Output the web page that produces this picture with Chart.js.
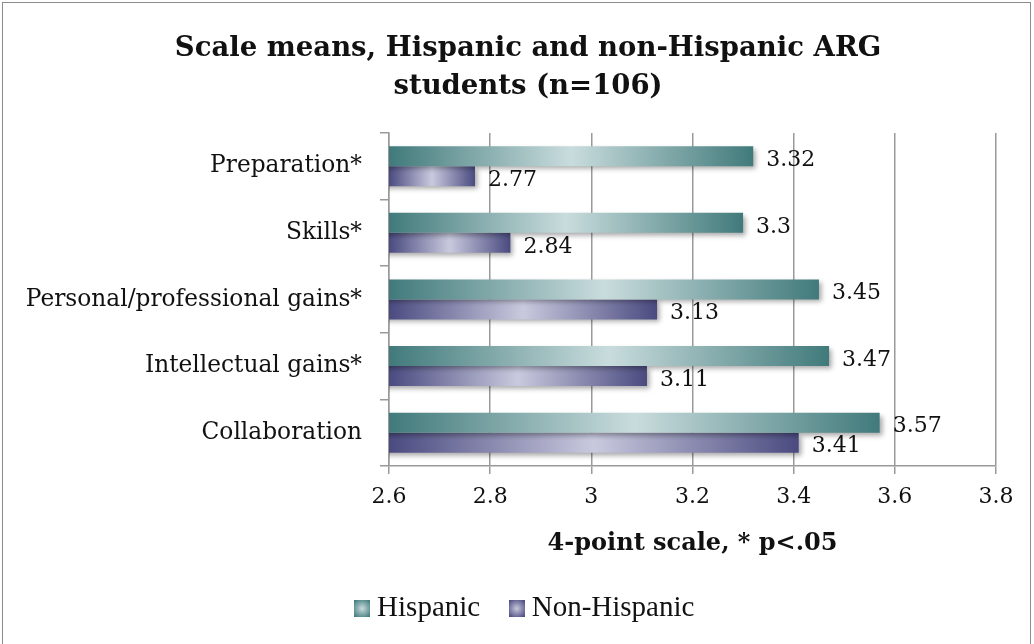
<!DOCTYPE html>
<html>
<head>
<meta charset="utf-8">
<script src="https://cdn.jsdelivr.net/npm/chart.js@4.4.0/dist/chart.umd.min.js"></script>
<style>
  html, body { margin: 0; padding: 0; background: #fff; }
  #wrap { position: absolute; left: 0; top: 0; width: 1034px; height: 644px; }
</style>
</head>
<body>
<div id="wrap"><canvas id="c" width="1034" height="644"></canvas></div>
<script>
const categories = ["Preparation*", "Skills*", "Personal/professional gains*", "Intellectual gains*", "Collaboration"];
const hispanic = [3.32, 3.3, 3.45, 3.47, 3.57];
const nonHispanic = [2.77, 2.84, 3.13, 3.11, 3.41];
const hispanicLabels = ["3.32", "3.3", "3.45", "3.47", "3.57"];
const nonHispanicLabels = ["2.77", "2.84", "3.13", "3.11", "3.41"];
const seriesNames = ["Hispanic", "Non-Hispanic"];
const titleLines = ["Scale means, Hispanic and non-Hispanic ARG", "students (n=106)"];
const xTitle = "4-point scale, * p<.05";
const xMin = 2.6, xMax = 3.8, xStep = 0.2;

const SERIF = "'DejaVu Serif', Georgia, serif";
const TEAL = ["#417a7b", "#c9dcdd"];
const PURPLE = ["#4a4a80", "#c9c9de"];

function barGradient(ctx, colors) {
  const chart = ctx.chart;
  if (!chart.chartArea || ctx.raw === undefined) return colors[0];
  const xs = chart.scales.x;
  const x0 = xs.getPixelForValue(xs.min);
  const x1 = xs.getPixelForValue(ctx.raw);
  if (!isFinite(x0) || !isFinite(x1) || x1 <= x0) return colors[0];
  const g = chart.ctx.createLinearGradient(x0, 0, x1, 0);
  g.addColorStop(0, colors[0]);
  g.addColorStop(0.5, colors[1]);
  g.addColorStop(1, colors[0]);
  return g;
}

function legendSwatch(colors) {
  const cv = document.createElement('canvas');
  cv.width = 16; cv.height = 17;
  const c = cv.getContext('2d');
  const g = c.createRadialGradient(8, 8.5, 0, 8, 8.5, 11);
  g.addColorStop(0, colors[1]);
  g.addColorStop(1, colors[0]);
  c.fillStyle = g;
  c.fillRect(0, 0, 16, 17);
  return cv;
}

const framePlugin = {
  id: 'frame',
  beforeDraw(chart) {
    // let the long category labels extend left of the axis box without clipping
    if (chart.scales.y) chart.scales.y._computeLabelArea = () => undefined;
    const c = chart.ctx;
    c.save();
    c.fillStyle = '#fff';
    c.fillRect(0, 0, chart.width, chart.height);
    c.strokeStyle = '#8c8c8c';
    c.lineWidth = 1;
    c.strokeRect(2.5, 2.5, 1028, 660);
    c.restore();
  }
};

const shadowPlugin = {
  id: 'barShadow',
  beforeDatasetsDraw(chart) {
    const c = chart.ctx;
    c.save();
    c.shadowColor = 'rgba(0,0,0,0.35)';
    c.shadowBlur = 5;
    c.shadowOffsetX = 3;
    c.shadowOffsetY = 3;
  },
  afterDatasetsDraw(chart) {
    chart.ctx.restore();
  }
};

const labelPlugin = {
  id: 'valueLabels',
  afterDatasetsDraw(chart) {
    const c = chart.ctx;
    const labelSets = [hispanicLabels, nonHispanicLabels];
    c.save();
    c.font = "22px " + SERIF;
    c.fillStyle = '#111';
    c.textAlign = 'left';
    c.textBaseline = 'middle';
    chart.data.datasets.forEach((ds, di) => {
      const meta = chart.getDatasetMeta(di);
      meta.data.forEach((bar, i) => {
        c.fillText(labelSets[di][i], bar.x + 13, bar.y + 4);
      });
    });
    c.restore();
  }
};

new Chart(document.getElementById('c'), {
  type: 'bar',
  data: {
    labels: categories,
    datasets: [
      { label: seriesNames[0], data: hispanic, backgroundColor: (ctx) => barGradient(ctx, TEAL), borderWidth: 0, swatch: legendSwatch(TEAL) },
      { label: seriesNames[1], data: nonHispanic, backgroundColor: (ctx) => barGradient(ctx, PURPLE), borderWidth: 0, swatch: legendSwatch(PURPLE) }
    ]
  },
  options: {
    indexAxis: 'y',
    responsive: false,
    animation: false,
    devicePixelRatio: 1,
    categoryPercentage: 0.6,
    barPercentage: 1.0,
    layout: { padding: { left: 60, right: 38, top: 0, bottom: 11 } },
    plugins: {
      title: {
        display: true,
        text: titleLines,
        color: '#111',
        font: { family: SERIF, size: 27.5, weight: 'bold', lineHeight: 1.38 },
        padding: { top: 30, bottom: 27 }
      },
      legend: {
        display: true,
        position: 'bottom',
        labels: {
          color: '#111',
          font: { family: "'Liberation Serif', 'Times New Roman', serif", size: 29 },
          usePointStyle: true,
          pointStyleWidth: 1,
          boxHeight: 17,
          padding: 36,
          generateLabels(chart) {
            return chart.data.datasets.map((ds, i) => ({
              text: ds.label,
              pointStyle: ds.swatch,
              fillStyle: TEAL[0],
              strokeStyle: 'transparent',
              lineWidth: 0,
              hidden: false,
              datasetIndex: i,
              fontColor: '#111'
            }));
          }
        }
      },
      tooltip: { enabled: false }
    },
    scales: {
      x: {
        type: 'linear',
        min: xMin,
        max: xMax,
        afterFit(scale) { scale.height = 92; },
        ticks: {
          stepSize: xStep,
          color: '#111',
          font: { family: SERIF, size: 22 },
          padding: 10,
          callback: (v) => String(Math.round(v * 10) / 10)
        },
        grid: { color: '#9a9a9a', lineWidth: 1.5, tickLength: 8, drawTicks: true },
        border: { color: '#9a9a9a', width: 1.5 },
        title: {
          display: true,
          text: xTitle,
          color: '#111',
          font: { family: SERIF, size: 24, weight: 'bold' },
          padding: { top: 18, bottom: 0 }
        }
      },
      y: {
        type: 'category',
        afterFit(scale) { scale.width = 329; },
        ticks: {
          color: '#111',
          font: { family: SERIF, size: 23.3 },
          padding: 18
        },
        grid: { offset: true, drawOnChartArea: false, drawTicks: true, tickLength: 9, color: '#9a9a9a', lineWidth: 1.5 },
        border: { color: '#9a9a9a', width: 1.5 }
      }
    }
  },
  plugins: [framePlugin, shadowPlugin, labelPlugin]
});
</script>
</body>
</html>
